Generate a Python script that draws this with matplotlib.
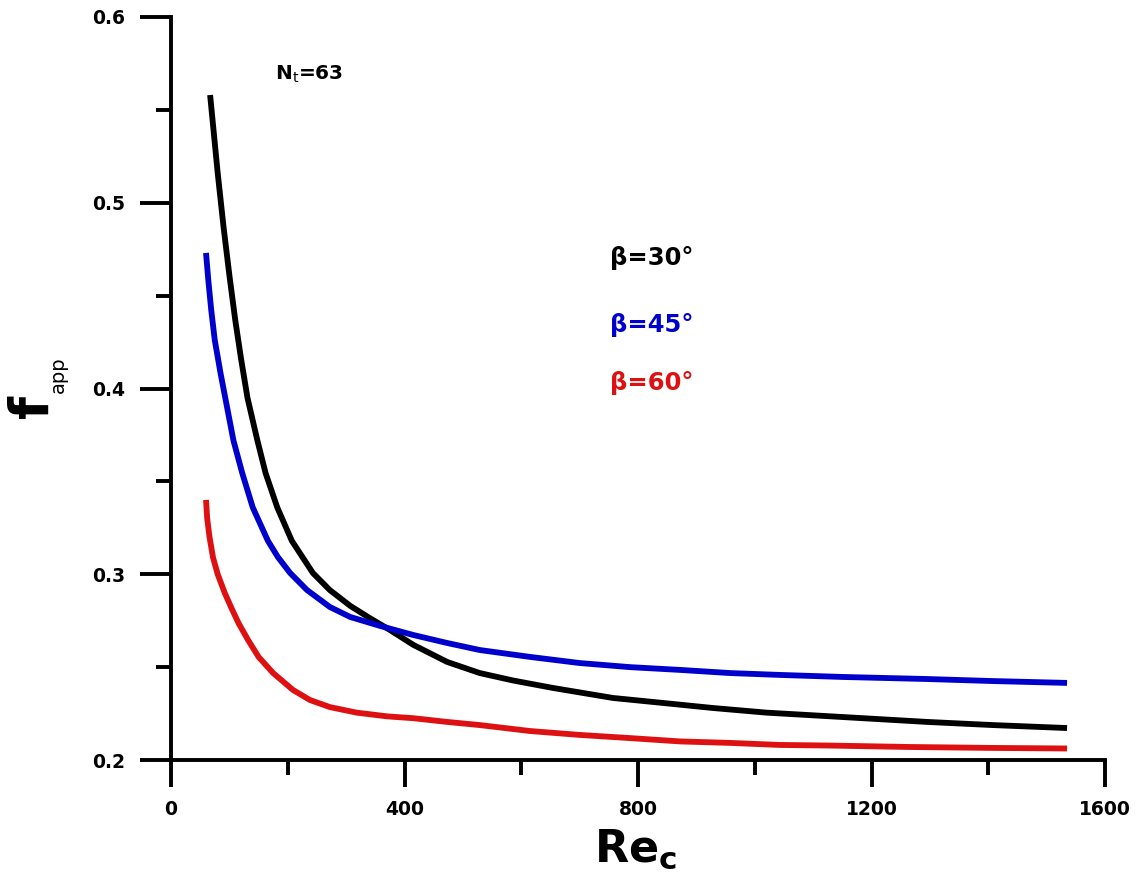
import matplotlib
matplotlib.use("Agg")
import matplotlib.pyplot as plt
from matplotlib.ticker import MultipleLocator

plt.rcParams['font.family'] = ['DejaVu Sans']
plt.rcParams['mathtext.fontset'] = 'custom'
plt.rcParams['mathtext.rm'] = 'DejaVu Sans'
plt.rcParams['mathtext.bf'] = 'DejaVu Sans:bold'
plt.rcParams['mathtext.it'] = 'DejaVu Sans:italic'

# Data
re_30 = [67, 80, 90, 100, 110, 120, 131, 148, 162, 182, 207, 243, 272, 307, 340, 375, 415, 473,
         529, 586, 654, 757, 843, 928, 1020, 1180, 1295, 1408, 1535]
f_30 = [0.558, 0.516, 0.487, 0.461, 0.437, 0.416, 0.395, 0.372, 0.3545, 0.336, 0.318, 0.3007,
        0.2915, 0.2830, 0.2765, 0.270, 0.262, 0.2528, 0.2468, 0.2428, 0.2388, 0.2334, 0.2307,
        0.228, 0.2255, 0.2226, 0.2205, 0.2188, 0.2172]

re_45 = [60, 64, 69, 75, 85, 96, 107, 122, 140, 166, 183, 204, 233, 272, 307, 358, 415, 473,
         529, 615, 700, 786, 872, 958, 1043, 1151, 1295, 1408, 1535]
f_45 = [0.473, 0.458, 0.442, 0.426, 0.408, 0.390, 0.372, 0.3545, 0.336, 0.318, 0.3093, 0.3007,
        0.2915, 0.2824, 0.277, 0.2722, 0.2673, 0.263, 0.2592, 0.2555, 0.2522, 0.25, 0.2485,
        0.2468, 0.2458, 0.2447, 0.2436, 0.2425, 0.2415]

re_60 = [60, 62, 66, 72, 80, 92, 104, 116, 132, 150, 175, 209, 238, 272, 318, 370, 415, 473,
         529, 615, 700, 786, 872, 958, 1043, 1124, 1266, 1408, 1535]
f_60 = [0.340, 0.330, 0.320, 0.309, 0.300, 0.290, 0.2815, 0.2735, 0.2646, 0.2555, 0.2468,
        0.2377, 0.2323, 0.2285, 0.2255, 0.2235, 0.2225, 0.2205, 0.2188, 0.2156, 0.2135, 0.2118,
        0.2100, 0.2092, 0.2081, 0.2078, 0.207, 0.2065, 0.2062]

labels = ['β=30°', 'β=45°', 'β=60°']
colors = ['#000000', '#0000cc', '#dd1111']
x_ticks = [0, 400, 800, 1200, 1600]
y_ticks = [0.2, 0.3, 0.4, 0.5, 0.6]

W, H = 1139, 875
fig = plt.figure(figsize=(W / 100, H / 100), dpi=100)
ax = fig.add_axes([171 / W, 1 - 760 / H, 934 / W, 743 / H])

for re, f, c in zip([re_30, re_45, re_60], [f_30, f_45, f_60], colors):
    ax.plot(re, f, color=c, lw=4.2, solid_capstyle='butt', solid_joinstyle='round')

ax.set_xlim(0, 1600)
ax.set_ylim(0.2, 0.6)
ax.set_xticks(x_ticks)
ax.set_yticks(y_ticks)
ax.set_xticklabels([str(v) for v in x_ticks])
ax.set_yticklabels(['%.1f' % v for v in y_ticks])
ax.xaxis.set_minor_locator(MultipleLocator(200))
ax.yaxis.set_minor_locator(MultipleLocator(0.05))

for s in ['top', 'right']:
    ax.spines[s].set_visible(False)
for s in ['left', 'bottom']:
    ax.spines[s].set_linewidth(2.8)

ax.tick_params(axis='y', which='major', direction='out', length=22, width=2.8, pad=11)
ax.tick_params(axis='x', which='major', direction='out', length=19.5, width=2.8, pad=9)
ax.tick_params(axis='both', which='minor', direction='out', length=10.8, width=2.8)
for lab in ax.get_xticklabels() + ax.get_yticklabels():
    lab.set_fontsize(13.5)
    lab.set_fontweight('bold')

# axis titles
fig.text(636 / W, 1 - 862 / H, r'$\mathbf{Re}_{\mathbf{c}}$', fontsize=32,
         ha='center', va='baseline')
fig.text(33 / W, 1 - 406 / H, 'f', fontsize=38, fontweight='bold', rotation=90,
         ha='center', va='center')
fig.text(58 / W, 1 - 375 / H, 'app', fontsize=14, rotation=90, ha='center', va='center')

ax.text(178, 0.569, r'N$_{\mathrm{t}}$=63', fontsize=14.5, fontweight='bold',
        va='center', ha='left')

ys = [0.470, 0.434, 0.403]
for lab, c, y in zip(labels, colors, ys):
    ax.text(752, y, lab, fontsize=17.5, fontweight='bold', color=c, va='center', ha='left')

fig.savefig('out.png', dpi=100)
